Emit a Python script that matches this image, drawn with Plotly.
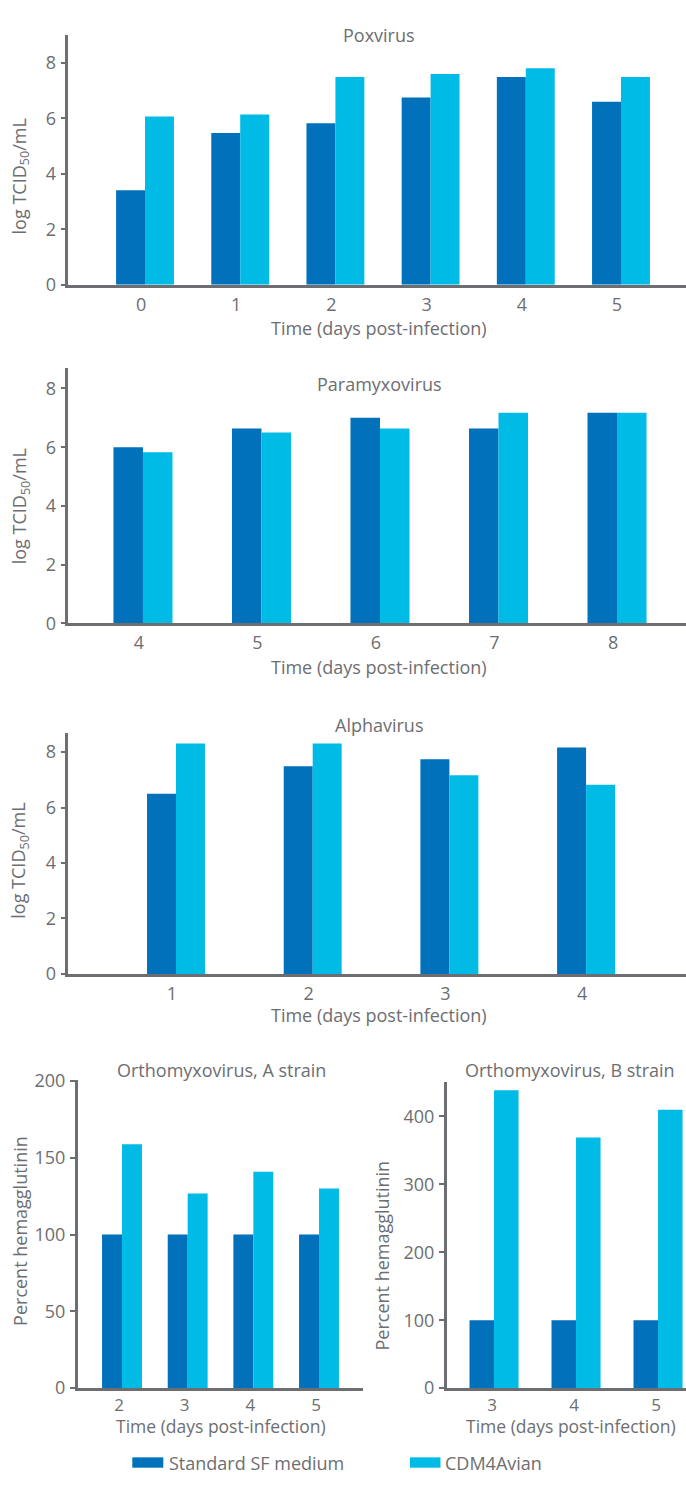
import plotly.graph_objects as go

# ---------------- data ----------------
series_names = ["Standard SF medium", "CDM4Avian"]

pox_days = [0, 1, 2, 3, 4, 5]
pox_std = [3.41, 5.47, 5.82, 6.75, 7.49, 6.60]
pox_cdm = [6.07, 6.14, 7.49, 7.60, 7.81, 7.49]

para_days = [4, 5, 6, 7, 8]
para_std = [6.00, 6.64, 7.00, 6.64, 7.17]
para_cdm = [5.83, 6.50, 6.64, 7.17, 7.17]

alpha_days = [1, 2, 3, 4]
alpha_std = [6.50, 7.49, 7.74, 8.17]
alpha_cdm = [8.31, 8.31, 7.17, 6.82]

orthoA_days = [2, 3, 4, 5]
orthoA_std = [100, 100, 100, 100]
orthoA_cdm = [158.8, 126.7, 140.8, 129.9]

orthoB_days = [3, 4, 5]
orthoB_std = [100, 100, 100]
orthoB_cdm = [438.6, 369.0, 409.7]

titles = ["Poxvirus", "Paramyxovirus", "Alphavirus",
          "Orthomyxovirus, A strain", "Orthomyxovirus, B strain"]
xlabel = "Time (days post-infection)"
ylabel_log = "log TCID<sub>50</sub>/mL"
ylabel_pct = "Percent hemagglutinin"

# ---------------- style ----------------
W, H = 686, 1491
DARK = "#0071BA"
LIGHT = "#00BBE6"
GRAY = "#6d6e71"
FONT = "Open Sans"
FS = 18


def px(x):
    return x / W


def py(y):
    return 1 - y / H


fig = go.Figure()

panels = [
    # days, std, cdm, bar width, axis id
    (pox_days, pox_std, pox_cdm, 0.304, ""),
    (para_days, para_std, para_cdm, 0.249, "2"),
    (alpha_days, alpha_std, alpha_cdm, 0.212, "3"),
    (orthoA_days, orthoA_std, orthoA_cdm, 0.304, "4"),
    (orthoB_days, orthoB_std, orthoB_cdm, 0.299, "5"),
]

for days, std, cdm, w, ax in panels:
    fig.add_trace(go.Bar(x=days, y=std, width=w, offset=-w, marker_color=DARK,
                         marker_line_width=0, name=series_names[0], showlegend=False,
                         xaxis="x" + ax, yaxis="y" + ax))
    fig.add_trace(go.Bar(x=days, y=cdm, width=w, offset=0, marker_color=LIGHT,
                         marker_line_width=0, name=series_names[1], showlegend=False,
                         xaxis="x" + ax, yaxis="y" + ax))

# axis geometry (pixels)
geo = {
    "": dict(x0=68.3, x1=686, yb=277, yt=23, xr=[-0.806, 5.683], yr=[0, 9.02],
             yt_vals=[0, 2, 4, 6, 8], shift=-4, xfs=18, sto=2),
    "2": dict(x0=68.3, x1=686, yb=621, yt=361.5, xr=[3.370, 8.582], yr=[0, 8.7],
              yt_vals=[0, 2, 4, 6, 8], shift=-4, xfs=18, sto=1),
    "3": dict(x0=68.3, x1=686, yb=977, yt=732, xr=[0.212, 4.731], yr=[0, 8.7],
              yt_vals=[0, 2, 4, 6, 8], shift=-4, xfs=18, sto=2),
    "4": dict(x0=77.7, x1=363, yb=1397.7, yt=1085.2, xr=[1.325, 5.67], yr=[0, 200.3],
              yt_vals=[0, 50, 100, 150, 200], shift=-3, xfs=17, sto=0),
    "5": dict(x0=446.7, x1=686, yb=1397.7, yt=1086.7, xr=[2.423, 5.341], yr=[0, 450.7],
              yt_vals=[0, 100, 200, 300, 400], shift=-2, xfs=17, sto=0),
}
days_by_ax = {"": pox_days, "2": para_days, "3": alpha_days, "4": orthoA_days, "5": orthoB_days}

layout_axes = {}
for ax, g in geo.items():
    layout_axes["xaxis" + ax] = dict(
        domain=[px(g["x0"]), px(g["x1"])], anchor="y" + ax, range=g["xr"],
        tickmode="array", tickvals=days_by_ax[ax], ticktext=[str(d) for d in days_by_ax[ax]],
        showline=True, linecolor=GRAY, linewidth=2.5, ticks="", showgrid=False,
        zeroline=False, tickfont=dict(family=FONT, size=g["xfs"], color=GRAY),
        ticklabelshift=g["shift"], ticklabelstandoff=g["sto"], fixedrange=True)
    layout_axes["yaxis" + ax] = dict(
        domain=[py(g["yb"]), py(g["yt"])], anchor="x" + ax, range=g["yr"],
        tickmode="array", tickvals=g["yt_vals"], showline=True, linecolor=GRAY,
        linewidth=2.5, ticks="outside", ticklen=5, tickwidth=2, tickcolor=GRAY,
        showgrid=False, zeroline=False, ticklabelstandoff=1,
        tickfont=dict(family=FONT, size=FS, color=GRAY), fixedrange=True)

annotations = []


def text(t, x, y, xanchor="center", angle=0, size=FS):
    annotations.append(dict(text=t, x=px(x), y=py(y), xref="paper", yref="paper",
                            xanchor=xanchor, yanchor="middle", showarrow=False,
                            textangle=angle,
                            font=dict(family=FONT, size=size, color=GRAY)))


# titles
text(titles[0], 379, 23)
text(titles[1], 379, 378)
text(titles[2], 379.5, 724)
text(titles[3], 221.7, 1075)
text(titles[4], 463.3, 1075, xanchor="left")

# x labels
text(xlabel, 379, 321)
text(xlabel, 379, 665)
text(xlabel, 379, 1019)
text(xlabel, 221, 1436, size=17.5)
text(xlabel, 571, 1436, size=17.5)

# y labels
text(ylabel_log, 20, 167, angle=-90)
text(ylabel_log, 20, 502, angle=-90)
text(ylabel_log, 20, 862, angle=-90)
text(ylabel_pct, 20, 1238, angle=-90)
text(ylabel_pct, 382, 1263, angle=-90)

# legend
shapes = [
    dict(type="rect", xref="paper", yref="paper", x0=px(132.3), x1=px(163.3),
         y0=py(1478.5), y1=py(1468), fillcolor=DARK, line_width=0),
    dict(type="rect", xref="paper", yref="paper", x0=px(410), x1=px(440.5),
         y0=py(1478.5), y1=py(1468), fillcolor=LIGHT, line_width=0),
]
text(series_names[0], 166.7, 1473.5, xanchor="left")
text(series_names[1], 443.3, 1473.5, xanchor="left")

fig.update_layout(
    width=W, height=H, margin=dict(l=0, r=0, t=0, b=0, pad=0),
    paper_bgcolor="white", plot_bgcolor="white", barmode="overlay",
    showlegend=False, annotations=annotations, shapes=shapes,
    font=dict(family=FONT, size=FS, color=GRAY),
    **layout_axes,
)

fig.write_html("out.html", config={"displayModeBar": False},
               post_script="document.body.style.margin='0';")
